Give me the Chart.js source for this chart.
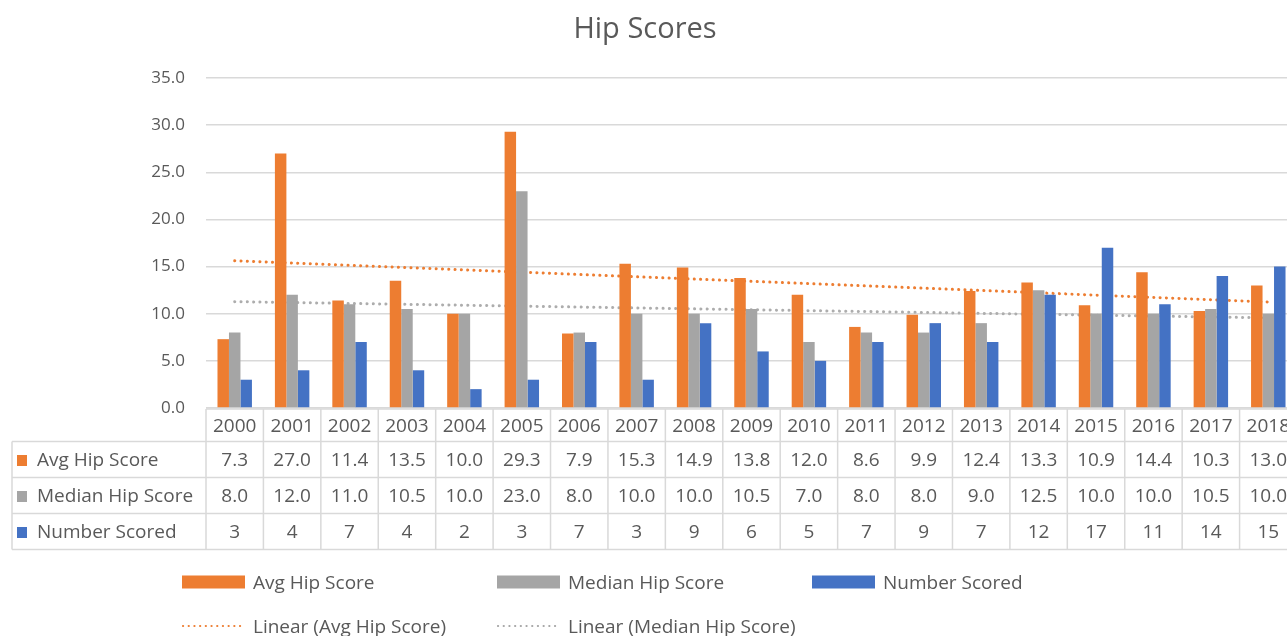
<!DOCTYPE html>
<html>
<head>
<meta charset="utf-8">
<title>Hip Scores</title>
<script src="https://cdn.jsdelivr.net/npm/chart.js@4/dist/chart.umd.min.js"></script>
<style>
  html, body { margin: 0; padding: 0; background: #ffffff; overflow: hidden; }
  #wrap { position: relative; width: 1310px; height: 636px; }
</style>
</head>
<body>
<div id="wrap"><canvas id="chart"></canvas></div>
<script>
// ---- data ----
const years = ['2000','2001','2002','2003','2004','2005','2006','2007','2008','2009',
               '2010','2011','2012','2013','2014','2015','2016','2017','2018'];
const avgHipScore = [7.3, 27.0, 11.4, 13.5, 10.0, 29.3, 7.9, 15.3, 14.9, 13.8,
                     12.0, 8.6, 9.9, 12.4, 13.3, 10.9, 14.4, 10.3, 13.0];
const medianHipScore = [8.0, 12.0, 11.0, 10.5, 10.0, 23.0, 8.0, 10.0, 10.0, 10.5,
                        7.0, 8.0, 8.0, 9.0, 12.5, 10.0, 10.0, 10.5, 10.0];
const numberScored = [3, 4, 7, 4, 2, 3, 7, 3, 9, 6, 5, 7, 9, 7, 12, 17, 11, 14, 15];
const yTicks = [0, 5, 10, 15, 20, 25, 30, 35];

const seriesNames = ['Avg Hip Score', 'Median Hip Score', 'Number Scored'];
const trendNames = ['Linear (Avg Hip Score)', 'Linear (Median Hip Score)'];

// ---- styling ----
const FONT = '"Open Sans", Lato, sans-serif';
const TEXT = '#595959';
const GRID = '#d9d9d9';
const ORANGE = '#ED7D31';
const GREY = '#A5A5A5';
const BLUE = '#4472C4';

// least-squares trendline over category index
function linearTrend(values) {
  const n = values.length;
  let sx = 0, sy = 0, sxy = 0, sxx = 0;
  values.forEach((v, i) => { const x = i + 1; sx += x; sy += v; sxy += x * v; sxx += x * x; });
  const slope = (n * sxy - sx * sy) / (n * sxx - sx * sx);
  const icpt = (sy - slope * sx) / n;
  return values.map((_, i) => icpt + slope * (i + 1));
}

// data table underneath the plot + legend + title
const tableLayout = {
  tableLeft: 12,
  yearRowH: 32.5,
  rowH: 36,
};

const tablePlugin = {
  id: 'hipTable',
  afterDraw(chart) {
    const { ctx, chartArea, scales } = chart;
    const xs = scales.x;
    const n = years.length;
    const colW = (chartArea.right - chartArea.left) / n;
    const top = chartArea.bottom + 1;
    const L = tableLayout;
    const rowTops = [top, top + L.yearRowH, top + L.yearRowH + L.rowH,
                     top + L.yearRowH + 2 * L.rowH, top + L.yearRowH + 3 * L.rowH];
    const right = chart.width;

    ctx.save();
    ctx.strokeStyle = GRID;
    ctx.lineWidth = 1.5;
    ctx.beginPath();
    // year row top border
    ctx.moveTo(chartArea.left, rowTops[0]); ctx.lineTo(right, rowTops[0]);
    // remaining horizontal borders
    for (let r = 1; r < rowTops.length; r++) {
      ctx.moveTo(L.tableLeft, rowTops[r]); ctx.lineTo(right, rowTops[r]);
    }
    // header column left border
    ctx.moveTo(L.tableLeft, rowTops[1]); ctx.lineTo(L.tableLeft, rowTops[4]);
    // column borders
    for (let i = 0; i <= n; i++) {
      const x = chartArea.left + i * colW;
      ctx.moveTo(x, rowTops[0]); ctx.lineTo(x, rowTops[4]);
    }
    ctx.stroke();

    ctx.fillStyle = TEXT;
    ctx.font = '19px ' + FONT;
    ctx.textAlign = 'center';
    ctx.textBaseline = 'middle';
    const rows = [
      years,
      avgHipScore.map(v => v.toFixed(1)),
      medianHipScore.map(v => v.toFixed(1)),
      numberScored.map(v => String(v)),
    ];
    rows.forEach((vals, r) => {
      const cy = (rowTops[r] + rowTops[r + 1]) / 2 + 1;
      vals.forEach((t, i) => {
        ctx.fillText(t, xs.getPixelForValue(i), cy);
      });
    });

    // row headers with colour keys
    const keyColors = [ORANGE, GREY, BLUE];
    ctx.textAlign = 'left';
    seriesNames.forEach((name, k) => {
      const cy = (rowTops[k + 1] + rowTops[k + 2]) / 2 + 1;
      ctx.fillStyle = keyColors[k];
      ctx.fillRect(L.tableLeft + 5, cy - 5.5, 10, 11);
      ctx.fillStyle = TEXT;
      ctx.fillText(name, L.tableLeft + 25, cy);
    });

    // legend
    const legX = [182, 497, 812];
    const row1 = 582, row2 = 626;
    seriesNames.forEach((name, k) => {
      ctx.fillStyle = keyColors[k];
      ctx.fillRect(legX[k], row1 - 6.5, 63, 13);
      ctx.fillStyle = TEXT;
      ctx.fillText(name, legX[k] + 71, row1 + 2);
    });
    const trendColors = [ORANGE, GREY];
    trendNames.forEach((name, k) => {
      ctx.save();
      ctx.strokeStyle = trendColors[k];
      ctx.lineWidth = 2.2;
      ctx.lineCap = 'round';
      ctx.setLineDash([0.1, 5.6]);
      ctx.beginPath();
      ctx.moveTo(legX[k] + 1, row2); ctx.lineTo(legX[k] + 62, row2);
      ctx.stroke();
      ctx.restore();
      ctx.fillStyle = TEXT;
      ctx.fillText(name, legX[k] + 71, row2 + 2);
    });

    // title
    ctx.font = '29px ' + FONT;
    ctx.textAlign = 'center';
    ctx.fillStyle = TEXT;
    ctx.fillText('Hip Scores', 645, 30);
    ctx.restore();
  }
};

const trendStyle = {
  type: 'line',
  borderWidth: 3,
  borderDash: [0.1, 6.2],
  borderCapStyle: 'round',
  pointRadius: 0,
  pointHoverRadius: 0,
  fill: false,
  tension: 0,
  order: 5,
};

new Chart(document.getElementById('chart'), {
  type: 'bar',
  data: {
    labels: years,
    datasets: [
      { label: seriesNames[0], data: avgHipScore, backgroundColor: ORANGE, order: 0 },
      { label: seriesNames[1], data: medianHipScore, backgroundColor: GREY, order: 0 },
      { label: seriesNames[2], data: numberScored, backgroundColor: BLUE, order: 0 },
      Object.assign({ label: trendNames[0], data: linearTrend(avgHipScore), borderColor: ORANGE }, trendStyle),
      Object.assign({ label: trendNames[1], data: linearTrend(medianHipScore), borderColor: '#ADADAD' }, trendStyle),
    ],
  },
  options: {
    responsive: true,
    maintainAspectRatio: false,
    animation: false,
    layout: { padding: { top: 78, right: 13, bottom: 228, left: 0 } },
    datasets: { bar: { categoryPercentage: 0.6, barPercentage: 1.0 } },
    plugins: {
      legend: { display: false },
      title: { display: false },
      tooltip: { enabled: false },
    },
    scales: {
      x: {
        offset: true,
        grid: { display: false },
        border: { display: false },
        ticks: { display: false },
        afterFit(scale) { scale.height = 0; },
      },
      y: {
        min: 0,
        max: 35,
        afterBuildTicks(scale) { scale.ticks = yTicks.map(v => ({ value: v })); },
        afterFit(scale) { scale.width = 206; },
        grid: { color: GRID, lineWidth: 1.5, drawTicks: false },
        border: { display: false },
        ticks: {
          padding: 21,
          color: TEXT,
          font: { family: FONT, size: 17 },
          callback: v => Number(v).toFixed(1),
        },
      },
    },
  },
  plugins: [tablePlugin],
});
</script>
</body>
</html>
